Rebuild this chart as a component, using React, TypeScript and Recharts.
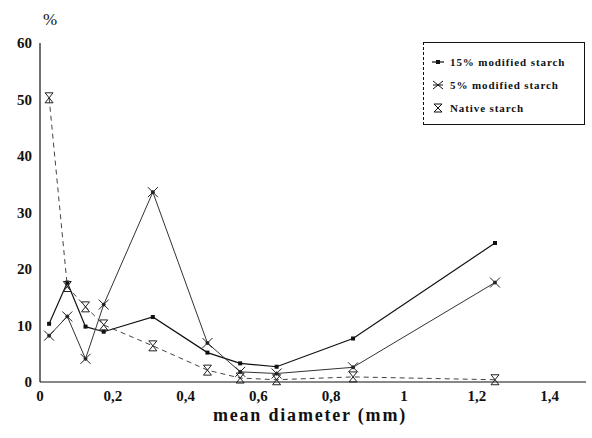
import React from 'react';
import { LineChart, Line, XAxis, YAxis } from 'recharts';

const diameters = [0.025, 0.075, 0.125, 0.175, 0.31, 0.46, 0.55, 0.65, 0.86, 1.25];
const modified15 = [10.3, 17.6, 9.8, 8.9, 11.5, 5.2, 3.3, 2.7, 7.7, 24.6];
const modified5 = [8.2, 11.6, 4.1, 13.7, 33.6, 6.9, 1.8, 1.5, 2.6, 17.6];
const native = [50.3, 16.9, 13.3, 10.1, 6.4, 2.1, 0.7, 0.4, 0.9, 0.4];

const xTicks = [0, 0.2, 0.4, 0.6, 0.8, 1, 1.2, 1.4];
const yTicks = [0, 10, 20, 30, 40, 50, 60];

const series = [
  { key: 'm15', name: '15% modified starch' },
  { key: 'm5', name: '5% modified starch' },
  { key: 'nat', name: 'Native starch' }
];

const data = diameters.map((d, i) => ({
  d,
  m15: modified15[i],
  m5: modified5[i],
  nat: native[i]
}));

const FONT = '"Liberation Serif", "Times New Roman", serif';

const SquareDot = (props: any) => {
  const { cx, cy, index } = props;
  return <rect key={`sq-${index}`} x={cx - 2} y={cy - 2} width={4} height={4} fill="#111" />;
};

const CrossDot = (props: any) => {
  const { cx, cy, index } = props;
  return (
    <g key={`x-${index}`} stroke="#222" strokeWidth={1}>
      <line x1={cx - 5} y1={cy - 5} x2={cx + 5} y2={cy + 5} />
      <line x1={cx - 5} y1={cy + 5} x2={cx + 5} y2={cy - 5} />
      <circle cx={cx} cy={cy} r={1.5} fill="#222" />
    </g>
  );
};

const HourglassDot = (props: any) => {
  const { cx, cy, index } = props;
  return (
    <path
      key={`h-${index}`}
      d={`M${cx - 4},${cy - 5} L${cx + 4},${cy - 5} L${cx - 4},${cy + 5} L${cx + 4},${cy + 5} Z`}
      fill="none"
      stroke="#222"
      strokeWidth={1}
    />
  );
};

const markers: Record<string, (x: number, y: number) => React.ReactNode> = {
  m15: (x, y) => (
    <g>
      <line x1={x - 6} y1={y} x2={x + 6} y2={y} stroke="#111" strokeWidth={1.2} />
      <rect x={x - 2} y={y - 2} width={4} height={4} fill="#111" />
    </g>
  ),
  m5: (x, y) => (
    <g stroke="#111" strokeWidth={1}>
      <line x1={x - 5} y1={y - 4} x2={x + 5} y2={y + 4} />
      <line x1={x - 5} y1={y + 4} x2={x + 5} y2={y - 4} />
      <line x1={x - 5} y1={y} x2={x + 5} y2={y} />
    </g>
  ),
  nat: (x, y) => (
    <path d={`M${x - 4},${y - 4} L${x + 4},${y - 4} L${x - 4},${y + 4} L${x + 4},${y + 4} Z`} fill="none" stroke="#111" strokeWidth={1} />
  )
};

const LegendBox = () => (
  <div
    style={{
      position: 'absolute',
      left: 423,
      top: 42,
      border: '1px solid #111',
      borderLeft: '1px dashed #111',
      width: 162,
      height: 83,
      boxSizing: 'border-box',
      padding: '7px 0 0 7px',
      fontFamily: FONT,
      fontWeight: 'bold',
      fontSize: 11,
      letterSpacing: 0.9,
      color: '#111',
      background: '#fff'
    }}
  >
    {series.map((s) => (
      <div key={s.key} style={{ display: 'flex', alignItems: 'center', height: 23 }}>
        <svg width={14} height={12} style={{ marginRight: 5 }}>
          {markers[s.key](7, 6)}
        </svg>
        <span>{s.name}</span>
      </div>
    ))}
  </div>
);

export default function App() {
  return (
    <div style={{ position: 'absolute', left: 0, top: 0, width: 592, height: 438, background: '#fff' }}>
      <LineChart width={592} height={438} data={data} margin={{ top: 43, right: 6, bottom: 26, left: 0 }}>
        <XAxis
          dataKey="d"
          type="number"
          domain={[0, 1.5]}
          ticks={xTicks}
          tickFormatter={(v: number) => String(v).replace('.', ',')}
          tickLine={false}
          axisLine={{ stroke: '#111', strokeWidth: 1.2 }}
          tick={{ fill: '#111', fontFamily: FONT, fontWeight: 'bold', fontSize: 15 }}
          height={30}
          interval={0}
        />
        <YAxis
          type="number"
          domain={[0, 60]}
          ticks={yTicks}
          tickLine={false}
          axisLine={{ stroke: '#111', strokeWidth: 1.2 }}
          tick={{ fill: '#111', fontFamily: FONT, fontWeight: 'bold', fontSize: 15 }}
          width={40}
          interval={0}
        />
        <Line
          dataKey="m15"
          name={series[0].name}
          type="linear"
          stroke="#111"
          strokeWidth={1.2}
          dot={SquareDot}
          isAnimationActive={false}
        />
        <Line
          dataKey="m5"
          name={series[1].name}
          type="linear"
          stroke="#333"
          strokeWidth={1}
          dot={CrossDot}
          isAnimationActive={false}
        />
        <Line
          dataKey="nat"
          name={series[2].name}
          type="linear"
          stroke="#444"
          strokeWidth={1}
          strokeDasharray="5 4"
          dot={HourglassDot}
          isAnimationActive={false}
        />
        <text x={43} y={25} fontFamily={FONT} fontSize={17} fill="#111">%</text>
        <text x={310} y={421} textAnchor="middle" fontFamily={FONT} fontWeight="bold" fontSize={18} letterSpacing={1.8} fill="#111">
          mean diameter (mm)
        </text>
      </LineChart>
      <LegendBox />
    </div>
  );
}
